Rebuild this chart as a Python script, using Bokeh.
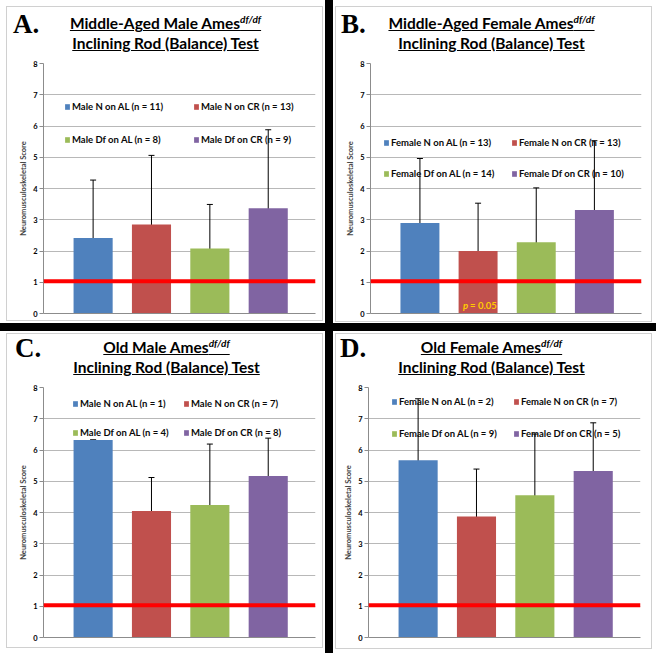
from bokeh.plotting import figure
from bokeh.models import (ColumnDataSource, Whisker, TeeHead, Span, Legend, LegendItem,
                          FixedTicker, Div)
from bokeh.layouts import column, row
from bokeh.core.properties import value
from bokeh.embed import file_html
from bokeh.resources import INLINE

# ---------------- data ----------------
panel_letters = ["A.", "B.", "C.", "D."]
panel_titles = ["Middle-Aged Male Ames", "Middle-Aged Female Ames",
                "Old Male Ames", "Old Female Ames"]
title_sup = "df/df"
subtitle = "Inclining Rod (Balance) Test"
y_label = "Neuromusculoskeletal Score"
y_ticks = [0, 1, 2, 3, 4, 5, 6, 7, 8]
x_pos = [1, 2, 3, 4]

A_labels = ["Male N on AL (n = 11)", "Male N on CR (n = 13)",
            "Male Df on AL (n = 8)", "Male Df on CR (n = 9)"]
A_means = [2.42, 2.85, 2.08, 3.37]
A_sd = [1.85, 2.21, 1.41, 2.51]

B_labels = ["Female N on AL (n = 13)", "Female N on CR (n = 13)",
            "Female Df on AL (n = 14)", "Female Df on CR (n = 10)"]
B_means = [2.90, 2.00, 2.28, 3.31]
B_sd = [2.06, 1.53, 1.74, 2.22]

C_labels = ["Male N on AL (n = 1)", "Male N on CR (n = 7)",
            "Male Df on AL (n = 4)", "Male Df on CR (n = 8)"]
C_means = [6.32, 4.05, 4.24, 5.17]
C_sd = [0.0, 1.07, 1.95, 1.21]

D_labels = ["Female N on AL (n = 2)", "Female N on CR (n = 7)",
            "Female Df on AL (n = 9)", "Female Df on CR (n = 5)"]
D_means = [5.67, 3.87, 4.55, 5.33]
D_sd = [1.97, 1.52, 1.96, 1.54]

threshold = 1.03
p_note_bar = 2          # the bar under which the p value is written (panel B)
p_note_y = 0.26
p_note_text = ["p", "= 0.05"]

bar_colors = ["#4F81BD", "#C0504D", "#9BBB59", "#8064A2"]

FONT = "Lato"
FRAME_GRAY = "#d0d0d0"


def title_div(letter, title, w, h, letter_left, letter_top, title_top, title_shift):
    html = (
        f'<div style="position:relative;width:{w}px;height:{h}px;">'
        f'<div style="position:absolute;left:{letter_left}px;top:{letter_top}px;'
        f'font-family:\'Liberation Serif\';font-weight:bold;font-size:27px;'
        f'line-height:26px;color:#000;">{letter}</div>'
        f'<div style="position:absolute;left:{title_shift}px;top:{title_top}px;width:{w}px;'
        f'text-align:center;font-family:{FONT};font-weight:bold;font-size:15.5px;'
        f'line-height:19.5px;color:#000;">'
        f'<u>{title}<sup style="font-style:italic;font-size:10px;line-height:0;">{title_sup}</sup></u>'
        f'<br><u>{subtitle}</u></div></div>'
    )
    return Div(text=html, width=w, height=h, margin=0)


def border_styles(w, h, l, t, r, b):
    g = f"linear-gradient({FRAME_GRAY},{FRAME_GRAY})"
    return {
        "background-color": "white",
        "background-image": ", ".join([g] * 4),
        "background-position": f"{l}px {t}px, {l}px {b}px, {l}px {t}px, {r}px {t}px",
        "background-size": f"{r - l + 1}px 1px, {r - l + 1}px 1px, 1px {b - t + 1}px, 1px {b - t + 1}px",
        "background-repeat": "no-repeat",
    }


def make_panel(letter, title, labels, means, sds, W, div_h, fig_h, mb,
               leg_x, leg_w, leg_y, head, border, note=False):
    src = ColumnDataSource(dict(
        x=x_pos, top=means,
        lower=[m - s for m, s in zip(means, sds)],
        upper=[m + s for m, s in zip(means, sds)],
        color=bar_colors))
    p = figure(width=W, height=fig_h, x_range=(0.15, 4.81), y_range=(0, 8),
               output_backend="svg", toolbar_location=None,
               min_border_left=mb[0], min_border_right=mb[1],
               min_border_top=mb[2], min_border_bottom=mb[3])
    p.background_fill_color = "white"
    p.border_fill_alpha = 0
    p.outline_line_color = None

    r = p.vbar(x="x", top="top", width=0.67, fill_color="color", line_color=None,
               source=src)

    p.add_layout(Span(location=threshold, dimension="width",
                      line_color="#FF0000", line_width=4))
    p.add_layout(Whisker(base="x", upper="upper", lower="lower", source=src,
                         line_color="black", line_width=1,
                         upper_head=TeeHead(size=6, line_color="black", line_width=1),
                         lower_head=TeeHead(size=6, line_color="black", line_width=1)))

    if note:
        p.text(x=[x_pos[p_note_bar - 1]], y=[p_note_y], text=[p_note_text[0]],
               text_font=value(FONT), text_font_style="bold italic",
               text_font_size="9.5px", text_color="#FFCC00",
               text_align="right", text_baseline="middle", x_offset=-10)
        p.text(x=[x_pos[p_note_bar - 1]], y=[p_note_y], text=[p_note_text[1]],
               text_font=value(FONT), text_font_style="bold",
               text_font_size="9.5px", text_color="#FFCC00",
               text_align="left", text_baseline="middle", x_offset=-8)

    # axes
    p.yaxis.ticker = FixedTicker(ticks=y_ticks)
    p.yaxis.axis_label = y_label
    p.yaxis.axis_label_text_font = FONT
    p.yaxis.axis_label_text_font_style = "bold"
    p.yaxis.axis_label_text_font_size = "7.5px"
    p.yaxis.axis_label_standoff = 2
    p.yaxis.major_label_text_font = FONT
    p.yaxis.major_label_text_font_style = "bold"
    p.yaxis.major_label_text_font_size = "7.5px"
    p.yaxis.major_label_text_color = "#000000"
    p.yaxis.major_label_standoff = 2
    p.yaxis.major_tick_out = 4
    p.yaxis.major_tick_in = 0
    p.yaxis.minor_tick_line_color = None
    p.yaxis.axis_line_color = "#8c8c8c"
    p.yaxis.major_tick_line_color = "#8c8c8c"

    p.xaxis.ticker = FixedTicker(ticks=[])
    p.xaxis.major_label_text_font_size = "0px"
    p.xaxis.major_tick_line_color = None
    p.xaxis.minor_tick_line_color = None
    p.xaxis.axis_line_color = "#8c8c8c"

    p.xgrid.grid_line_color = None
    p.ygrid.ticker = FixedTicker(ticks=y_ticks)
    p.ygrid.grid_line_color = "#b8b8b8"

    # legend: two rows of two items
    items = [LegendItem(label=labels[i], renderers=[r], index=i) for i in range(4)]
    for k in range(2):
        leg = Legend(items=items[2 * k:2 * k + 2], location=(leg_x, leg_y[k]),
                     orientation="horizontal", padding=0, margin=0, spacing=0,
                     glyph_width=6, glyph_height=7, label_standoff=2,
                     label_width=leg_w, label_height=7,
                     border_line_color=None, background_fill_alpha=0,
                     label_text_font=FONT, label_text_font_style="bold",
                     label_text_font_size="9.5px", label_text_color="#0a0a0a")
        p.add_layout(leg)

    div = title_div(letter, title, W, div_h, *head)
    panel = column(div, p, spacing=0,
                   styles=border_styles(W, div_h + fig_h, *border))
    return panel


# geometry: panel width, title height, figure height, min borders (l, r, t, b),
# legend x, legend label width, legend rows y, title placement, panel frame line
pA = make_panel(panel_letters[0], panel_titles[0], A_labels, A_means, A_sd,
                325, 55, 268, (43, 10, 8, 10), 21, 121, [201, 168],
                (13, 11, 14, 3), (6, 6, 322, 320))
pB = make_panel(panel_letters[1], panel_titles[1], B_labels, B_means, B_sd,
                323, 55, 268, (37, 15, 8, 10), 13, 120, [165, 134],
                (8, 11, 14, -3), (2, 6, 318, 321), note=True)
pC = make_panel(panel_letters[2], panel_titles[2], C_labels, C_means, C_sd,
                325, 48, 274, (43, 10, 8, 16), 29, 103, [228, 199],
                (15, 4, 7, 4), (6, 2, 322, 316))
pD = make_panel(panel_letters[3], panel_titles[3], D_labels, D_means, D_sd,
                323, 48, 274, (35, 16, 8, 16), 23, 114, [230, 198],
                (7, 4, 7, -3), (2, 2, 318, 317))

top = row(pA, pB, spacing=8)
bottom = row(pC, pD, spacing=8)
root = column(top, bottom, spacing=8, styles={"background-color": "black"})

open("out.html", "w").write(file_html(root, INLINE))
